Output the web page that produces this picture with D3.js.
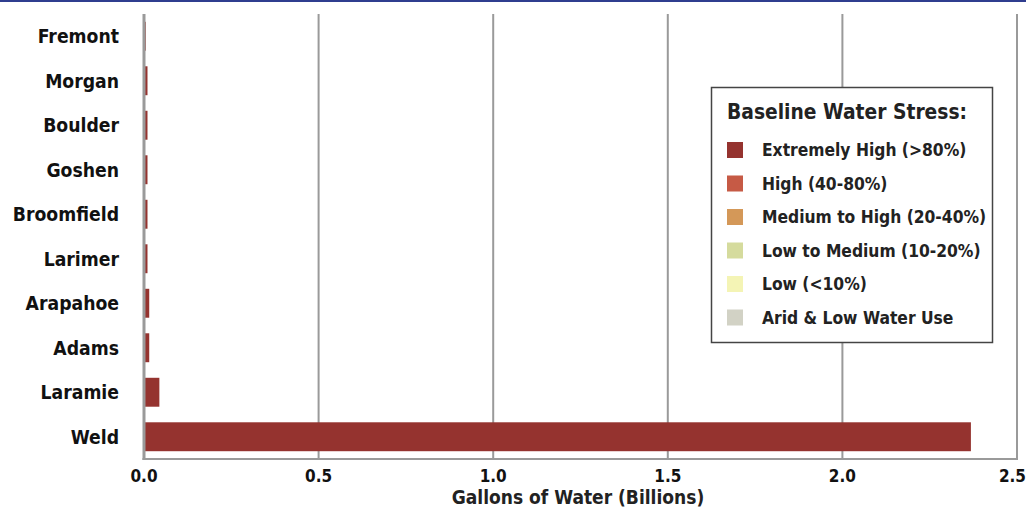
<!DOCTYPE html>
<meta charset="utf-8">
<style>
    body { margin: 0; background: #fff; }
    text {
        font-family: "Liberation Sans Narrow", "DejaVu Sans Condensed", sans-serif;
        font-weight: bold;
    }
    .grid line { stroke: #9a9a9a; stroke-width: 2px; }
</style>
<svg id="chart" width="1026" height="508"></svg>
<script src="https://cdnjs.cloudflare.com/ajax/libs/d3/7.8.5/d3.min.js"></script>
<script>

    var counties = ["Fremont", "Morgan", "Boulder", "Goshen", "Broomfield", "Larimer", "Arapahoe", "Adams", "Laramie", "Weld"];
    var gallons = [0.005, 0.010, 0.010, 0.010, 0.010, 0.010, 0.015, 0.015, 0.044, 2.368];
    var xTicks = [0, 0.5, 1.0, 1.5, 2.0, 2.5];

    var stressLevels = ["Extremely High (>80%)", "High (40-80%)", "Medium to High (20-40%)",
        "Low to Medium (10-20%)", "Low (<10%)", "Arid & Low Water Use"];
    var stressColors = ["#95332f", "#c65a45", "#d49858", "#d5db9d", "#f4f4b5", "#d2d2c5"];

    var svg = d3.select("#chart"),
        width = +svg.attr("width"),
        height = +svg.attr("height");

    // blue rule across the top
    svg.append("rect")
        .attr("x", 0).attr("y", 0)
        .attr("width", width).attr("height", 2)
        .attr("fill", "#2f3d8f");

    var x = d3.scaleLinear().domain([0, 2.5]).range([144, 1017]);
    var y = d3.scaleBand().domain(counties).range([14, 459]).paddingInner(0.35).paddingOuter(0.175);

    // vertical gridlines
    svg.append("g")
        .attr("class", "grid")
        .selectAll("line")
        .data(xTicks.slice(1))
        .enter().append("line")
        .attr("x1", d => x(d)).attr("x2", d => x(d))
        .attr("y1", 14).attr("y2", 459);

    // bars
    svg.append("g")
        .selectAll("rect")
        .data(counties)
        .enter().append("rect")
        .attr("x", x(0))
        .attr("y", d => y(d))
        .attr("height", y.bandwidth())
        .attr("width", (d, i) => x(gallons[i]) - x(0))
        .attr("fill", stressColors[0]);

    // axis lines
    svg.append("line")
        .attr("x1", x(0)).attr("x2", x(0))
        .attr("y1", 14).attr("y2", 460)
        .attr("stroke", "#9a9a9a").attr("stroke-width", 3);
    svg.append("line")
        .attr("x1", x(0) - 1.5).attr("x2", x(2.5) + 1)
        .attr("y1", 459).attr("y2", 459)
        .attr("stroke", "#9a9a9a").attr("stroke-width", 2);

    // county labels
    svg.append("g")
        .selectAll("text")
        .data(counties)
        .enter().append("text")
        .attr("x", 119)
        .attr("y", d => y(d) + y.bandwidth() / 2)
        .attr("dy", "0.36em")
        .attr("text-anchor", "end")
        .style("font-size", "19.2px")
        .attr("fill", "#111")
        .text(d => d);

    // tick labels
    svg.append("g")
        .selectAll("text")
        .data(xTicks)
        .enter().append("text")
        .attr("x", d => x(d))
        .attr("y", 482)
        .attr("text-anchor", (d, i) => i === xTicks.length - 1 ? "end" : "middle")
        .attr("dx", (d, i) => i === xTicks.length - 1 ? 9 : 0)
        .style("font-size", "17px")
        .attr("fill", "#111")
        .text(d => d3.format(".1f")(d));

    svg.append("text")
        .attr("x", 578)
        .attr("y", 504)
        .attr("text-anchor", "middle")
        .style("font-size", "19px")
        .attr("fill", "#222")
        .text("Gallons of Water (Billions)");

    // legend
    var legend = svg.append("g");
    legend.append("rect")
        .attr("x", 711.5).attr("y", 87.5)
        .attr("width", 281).attr("height", 255)
        .attr("fill", "#fff")
        .attr("stroke", "#444").attr("stroke-width", 1.5);
    legend.append("text")
        .attr("x", 727).attr("y", 119)
        .style("font-size", "20.8px")
        .attr("fill", "#222")
        .text("Baseline Water Stress:");

    var item = legend.selectAll("g.item")
        .data(stressLevels)
        .enter().append("g")
        .attr("class", "item")
        .attr("transform", (d, i) => "translate(727," + (150 + i * 33.5) + ")");
    item.append("rect")
        .attr("x", 0).attr("y", -8)
        .attr("width", 16).attr("height", 16)
        .attr("fill", (d, i) => stressColors[i]);
    item.append("text")
        .attr("x", 35).attr("y", 0)
        .attr("dy", "0.36em")
        .style("font-size", "17.3px")
        .attr("fill", "#222")
        .text(d => d);

</script>
